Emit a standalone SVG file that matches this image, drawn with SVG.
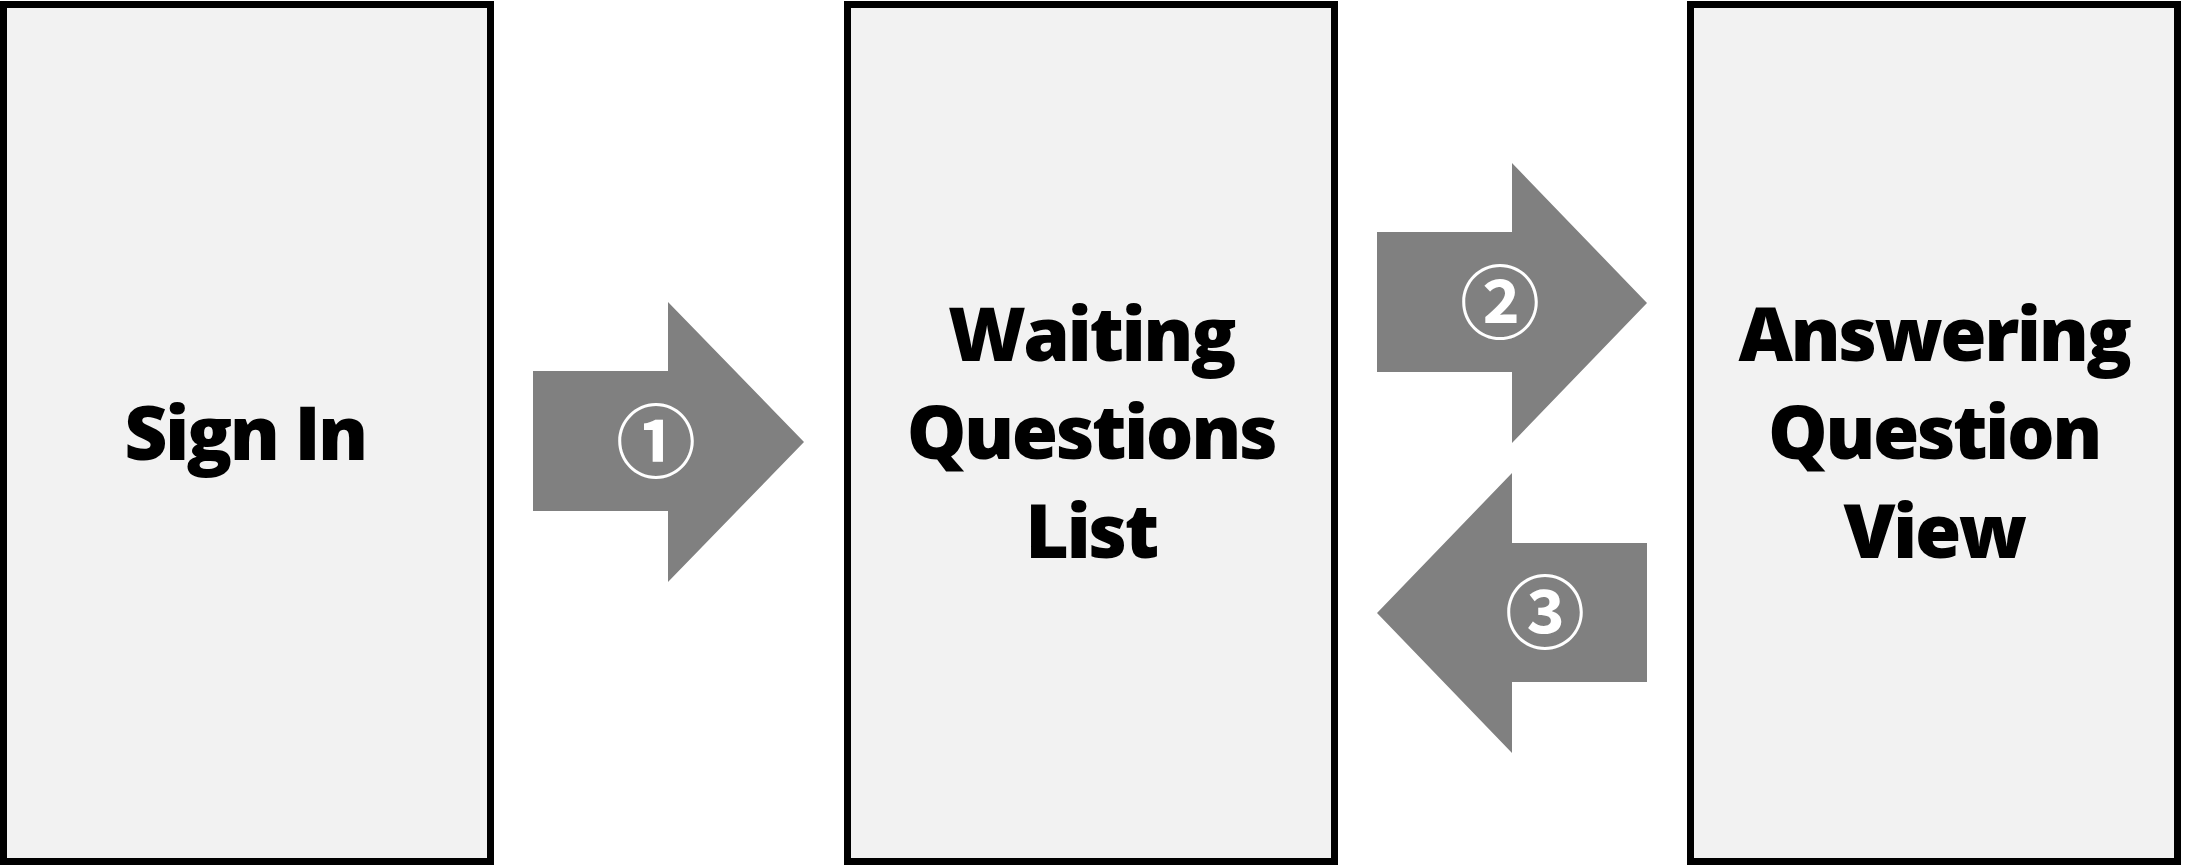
<svg xmlns="http://www.w3.org/2000/svg" width="2195" height="866" viewBox="0 0 2195 866">
<style>
.box{fill:#F2F2F2;stroke:#000;stroke-width:7}
.lbl{font-family:"Open Sans","Liberation Sans",sans-serif;font-weight:800;font-size:75px;fill:#000;text-anchor:middle;letter-spacing:-2.5px}
.arr{fill:#808080}
.num{font-family:"Noto Sans CJK JP","DejaVu Sans",sans-serif;font-weight:bold;font-size:80px;fill:#fff;text-anchor:middle;dominant-baseline:central}
</style>
<rect width="2195" height="866" fill="#fff"/>
<g id="node-signin">
<rect class="box" x="3.5" y="4.5" width="487" height="857"/>
<text class="lbl" x="245" y="460">Sign In</text>
</g>
<g id="node-waiting">
<rect class="box" x="847.5" y="4.5" width="487" height="857"/>
<text class="lbl" x="1091" y="361">Waiting</text>
<text class="lbl" x="1091" y="459">Questions</text>
<text class="lbl" x="1091" y="558">List</text>
</g>
<g id="node-answering">
<rect class="box" x="1690.5" y="4.5" width="487" height="857"/>
<text class="lbl" x="1934" y="361">Answering</text>
<text class="lbl" x="1934" y="459">Question</text>
<text class="lbl" x="1934" y="558">View</text>
</g>
<g id="connectors">
<g id="arrow1">
<polygon class="arr" points="533,371 668,371 668,302 804,442 668,582 668,511 533,511"/>
<text class="num" x="656" y="436">①</text>
</g>
<g id="arrow2">
<polygon class="arr" points="1377,232 1512,232 1512,163 1647,303 1512,443 1512,372 1377,372"/>
<text class="num" x="1500" y="297">②</text>
</g>
<g id="arrow3">
<polygon class="arr" points="1647,543 1512,543 1512,473 1377,613 1512,753 1512,682 1647,682"/>
<text class="num" x="1545" y="607">③</text>
</g>
</g>
</svg>
